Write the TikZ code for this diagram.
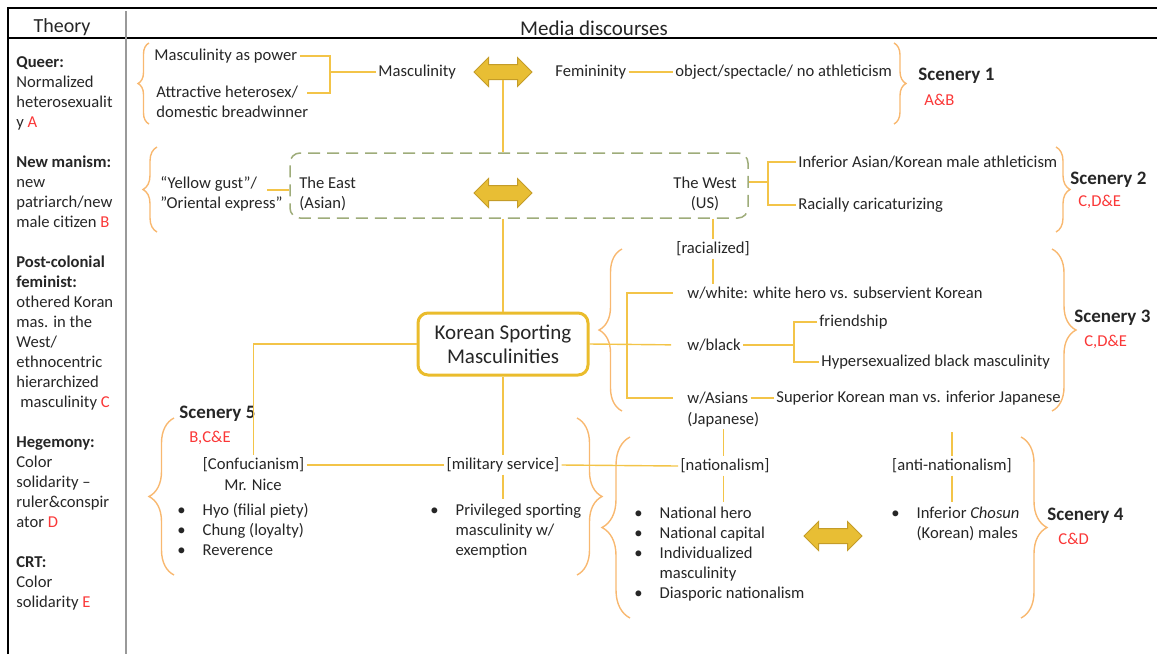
\documentclass[tikz,border=0pt]{standalone}
\usepackage{fontspec}
\setmainfont{Carlito}
\usepackage{xcolor}
\usetikzlibrary{shapes.arrows, decorations.pathreplacing, positioning}

\definecolor{lineGold}{RGB}{243,196,72}
\definecolor{braceOrange}{RGB}{248,184,112}
\definecolor{boxGold}{RGB}{234,188,44}
\definecolor{arrowFill}{RGB}{232,190,52}
\definecolor{arrowEdge}{RGB}{196,156,40}
\definecolor{dashGreen}{RGB}{158,172,122}
\definecolor{refRed}{RGB}{250,55,55}
\definecolor{inkGray}{RGB}{38,38,38}

\newcommand{\lettr}[1]{\textcolor{refRed}{#1}}
\newcommand{\pointlist}[1]{\begin{tabular}{@{}l@{\hspace{8.5pt}}l@{}}#1\end{tabular}}

\tikzset{
  txt/.style={inner sep=1pt, text=inkGray, font=\fontsize{8.3}{10}\selectfont, align=left},
  conn/.style={draw=lineGold, line width=0.7pt},
  curly/.style={draw=braceOrange, line width=0.7pt, decorate, decoration={brace, amplitude=#1}},
  curly/.default=6pt,
  swap arrow/.style={double arrow, draw=arrowEdge, fill=arrowFill, line width=0.5pt,
    minimum height=29pt, inner sep=3.5pt, double arrow head extend=3.5pt},
  scenery/.style={txt, font=\fontsize{9.5}{11}\selectfont\bfseries},
  letters/.style={txt, text=refRed},
}

\begin{document}
\begin{tikzpicture}[x=0.5pt, y=-0.5pt]
\useasboundingbox (0,0) rectangle (1160,654);
% table
\draw[black, line width=0.6pt] (8,654) -- (8,8) -- (1157,8);
\draw[black, line width=0.6pt] (8,38) -- (1157,38);
\draw[gray!80, line width=1pt] (126,11) -- (126,654);
\node[txt, font=\fontsize{10}{12}\selectfont] (theory) at (62,27) {Theory};
\node[txt, font=\fontsize{10.5}{12}\selectfont] (media) at (594,28) {Media discourses};

\node[txt, anchor=north west, inner sep=0pt] (theories) at (16,56) {%
  \textbf{Queer:}\\ Normalized\\ heterosexualit\\ y \lettr{A}\\[10pt]
  \textbf{New manism:}\\ new\\ patriarch/new\\ male citizen \lettr{B}\\[10pt]
  \textbf{Post-colonial}\\ \textbf{feminist:}\\ othered Koran\\ mas. in the\\ West/\\ ethnocentric\\ hierarchized\\ \hspace{2pt}masculinity \lettr{C}\\[10pt]
  \textbf{Hegemony:}\\ Color\\ solidarity –\\ ruler\&conspir\\ ator \lettr{D}\\[10pt]
  \textbf{CRT:}\\ Color\\ solidarity \lettr{E}};

% scenery 1
\draw[curly=5.5pt] (149,124) -- (149,43);
\node[txt, anchor=west] (power) at (152,56) {Masculinity as power};
\node[txt, anchor=west] (attr) at (154,101.5) {Attractive heterosex/\\domestic breadwinner};
\coordinate (attr1) at (307,93);
\coordinate (mj) at (330,72);
\node[txt, anchor=west] (masc) at (376,72) {Masculinity};
\node[swap arrow] (arr1) at (503,72) {};
\node[txt, anchor=west] (fem) at (553,72) {Femininity};
\node[txt, anchor=west] (obj) at (673,72) {object/spectacle/ no athleticism};
\draw[curly=6pt] (894,43) -- (894,124);
\node[scenery, anchor=west] (sc1) at (916,76) {Scenery 1};
\node[letters, anchor=west] (ab) at (922,100) {A\&B};

\draw[conn] (power.east) -| (mj) |- (attr1);
\draw[conn] (mj) -- (masc.west);
\draw[conn] (fem.east) -- (obj.west);

% scenery 2
\draw[curly=7pt] (157,232) -- (157,147);
\node[txt, anchor=west] (yellow) at (158,193.5) {“Yellow gust”/\\”Oriental express”};
\coordinate (ygj) at (267,190);
\node[draw=dashGreen, line width=0.75pt, dash pattern=on 6pt off 3.5pt, rounded corners=5pt,
  minimum width=229pt, minimum height=32.5pt] (ew) at (519,185.5) {};
\node[txt, anchor=west] (east) at (297,193.5) {The East\\(Asian)};
\node[swap arrow] (arr2) at (503,193) {};
\node[txt, align=center] (west) at (705,193.5) {The West\\(US)};
\coordinate (wj) at (768,182);
\node[txt, anchor=west] (inf) at (796,162) {Inferior Asian/Korean male athleticism};
\node[txt, anchor=west] (rac) at (796,205) {Racially caricaturizing};
\draw[curly=7pt] (1056,147) -- (1056,232);
\node[scenery, anchor=west] (sc2) at (1068,180) {Scenery 2};
\node[letters, anchor=west] (cde2) at (1076,202) {C,D\&E};

\draw[conn] (arr1.south) -- (arr1.south |- ew.north);
\draw[conn] (ygj) -- (ygj -| ew.west);
\draw[conn] (ew.east |- wj) -- (wj);
\draw[conn] (inf.west) -| (wj) |- (rac.west);

% scenery 3
\node[draw=boxGold, line width=1.5pt, rounded corners=5pt, minimum width=85pt, minimum height=31pt,
  align=center, font=\fontsize{10.5}{12}\selectfont, text=inkGray] (ksm) at (503,344) {Korean Sporting\\Masculinities};
\node[txt] (racial) at (713,249) {[racialized]};
\draw[curly=11.5pt] (622,411) -- (622,249);
\node[txt, anchor=west] (white) at (685,293) {w/white: white hero vs. subservient Korean};
\node[txt, anchor=west] (black) at (685,345) {w/black};
\coordinate (rj) at (627,345);
\coordinate (bj) at (794,345);
\node[txt, anchor=west] (friend) at (817,322) {friendship};
\node[txt, anchor=west] (hyper) at (819,362) {Hypersexualized black masculinity};
\node[txt, anchor=west] (asians) at (685,398) {w/Asians};
\node[txt, anchor=north west] (japan) at ([yshift=-1.5pt]asians.south west) {(Japanese)};
\node[txt, anchor=west] (superior) at (774,398) {Superior Korean man vs. inferior Japanese};
\draw[curly=12pt] (1052,249) -- (1052,411);
\node[scenery, anchor=west] (sc3) at (1072,318) {Scenery 3};
\node[letters, anchor=west] (cde3) at (1082,342) {C,D\&E};

\draw[conn] (ksm.north |- ew.south) -- (ksm.north);
\draw[conn] (racial.north |- ew.south) -- (racial.north);
\draw[conn] (racial.south) -- (racial.south |- white.north);
\draw[conn, shorten >=7pt] (ksm.east) -- (black.west);
\draw[conn, shorten <=6pt, shorten >=6pt] (white.west) -| (rj) |- (asians.west);
\draw[conn] (black.east) -- (bj);
\draw[conn] (friend.west) -| (bj) |- (hyper.west);
\draw[conn] (asians.east) -- (superior.west);

% scenery 5
\draw[curly=12.5pt] (174,575) -- (174,418);
\node[scenery, anchor=west] (sc5) at (177,414) {Scenery 5};
\node[letters, anchor=west] (bce) at (187,438) {B,C\&E};
\node[txt] (confu) at (253.5,465) {[Confucianism]};
\node[txt] (nice) at (253,485) {Mr. Nice};
\node[txt, anchor=north west] (confulist) at (175,499) {\pointlist{%
  \textbullet & Hyo (filial piety)\\ \textbullet & Chung (loyalty)\\ \textbullet & Reverence}};
\node[txt] (milit) at (503,465) {[military service]};
\node[txt, anchor=north west] (privlist) at (428,499) {\pointlist{%
  \textbullet & Privileged sporting\\ & masculinity w/\\ & exemption}};
\draw[curly=12.5pt] (577,418) -- (577,575);

% scenery 4
\draw[curly=14pt] (630,618) -- (630,437);
\node[txt] (nation) at (725,466) {[nationalism]};
\node[txt, anchor=north west] (natlist) at (632,502) {\pointlist{%
  \textbullet & National hero\\ \textbullet & National capital\\ \textbullet & Individualized\\ & masculinity\\ \textbullet & Diasporic nationalism}};
\node[swap arrow] (arr4) at (833,536) {};
\node[txt] (anti) at (952,466) {[anti-nationalism]};
\coordinate (antitop) at (952,432);
\node[txt, anchor=north west] (chosunlist) at (889,502) {\pointlist{%
  \textbullet & Inferior \textit{Chosun}\\ & (Korean) males}};
\draw[curly=13pt] (1021,437) -- (1021,618);
\node[scenery, anchor=west] (sc4) at (1045,516) {Scenery 4};
\node[letters, anchor=west] (cd) at (1056,539) {C\&D};

\draw[conn] (japan.south) -- (japan.south |- nation.north);
\draw[conn] (ksm.west) -| (confu.north);
\draw[conn] (ksm.south) -- (milit.north);
\draw[conn] (confu.east) -- (milit.west);
\draw[conn] (milit.east) -- (nation.west);
\draw[conn] (milit.south) -- (milit.south |- privlist.north);
\draw[conn] (nation.south -| japan.south) -- (japan.south |- natlist.north);
\draw[conn] (antitop) -- (anti.north);
\draw[conn] (anti.south) -- (anti.south |- chosunlist.north);
\end{tikzpicture}
\end{document}
